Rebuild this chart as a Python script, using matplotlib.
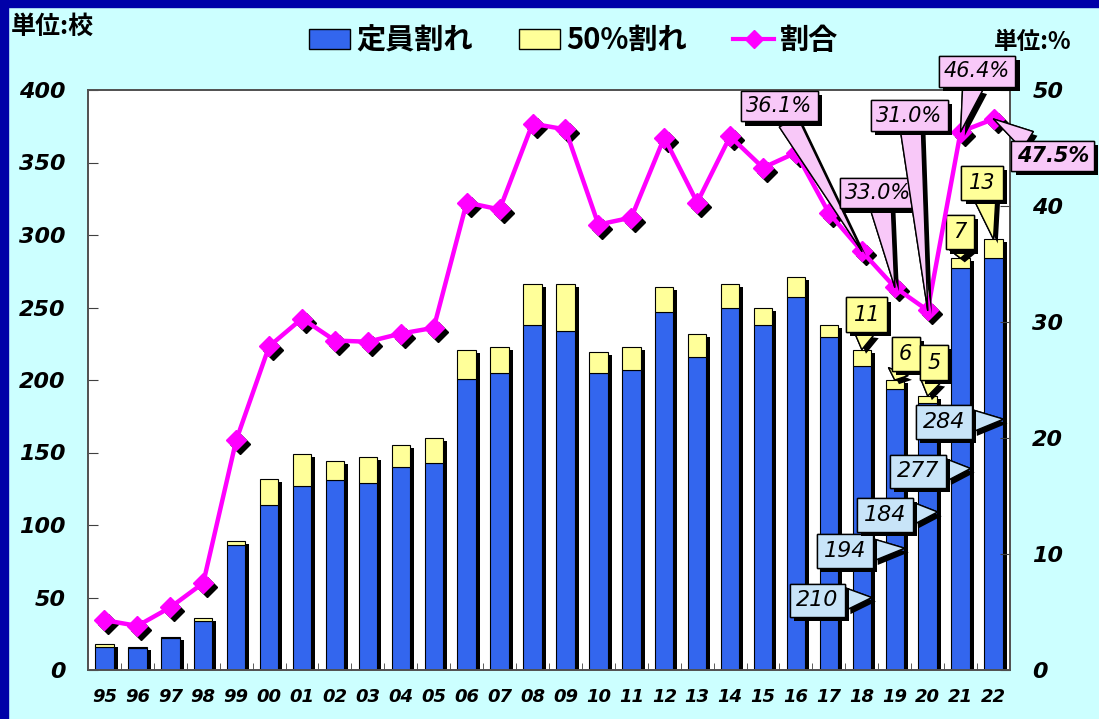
import numpy as np
import matplotlib
matplotlib.use('Agg')
import matplotlib.pyplot as plt
import matplotlib.patheffects as pe
from matplotlib.patches import Patch, Rectangle
from matplotlib.lines import Line2D
from matplotlib.transforms import offset_copy

## data
years  = ['95','96','97','98','99','00','01','02','03','04','05','06','07','08',
          '09','10','11','12','13','14','15','16','17','18','19','20','21','22']
blue   = [16,15,22,34,86,114,127,131,129,140,143,201,205,238,
          234,205,207,247,216,250,238,257,230,210,194,184,277,284]
yellow = [2,1,1,2,3,18,22,13,18,15,17,20,18,28,
          32,14,16,17,16,16,12,14,8,11,6,5,7,13]
ratio  = [4.3,3.8,5.4,7.5,19.8,27.9,30.3,28.4,28.3,29.0,29.5,40.3,39.7,47.1,
          46.6,38.4,39.0,45.9,40.3,46.0,43.3,44.6,39.4,36.1,33.0,31.0,46.4,47.5]

# callouts: (index, text position x, text position y)
pct_notes    = [(23, 20.5, 48.6), (24, 23.5, 41.1), (25, 24.45, 47.8),
                (26, 26.5, 51.6), (27, 28.8, 44.3)]
yellow_notes = [(23, 23.15, 245), (24, 24.33, 218), (25, 25.2, 212),
                (26, 25.98, 302), (27, 26.65, 336)]
blue_notes   = [(23, 21.65, 48), (24, 22.48, 82), (25, 23.7, 107),
                (26, 24.7, 137), (27, 25.49, 171)]

BG     = '#CCFFFF'
BLUE   = '#3366EE'
YELLOW = '#FFFF99'
MAG    = '#FF00FF'
PINK   = '#F8C8F8'
LBLUE  = '#C8E4F8'
JP     = ['Noto Sans CJK JP', 'DejaVu Sans']

fig = plt.figure(figsize=(10.99, 7.19), dpi=100, facecolor=BG)
fig.patches.append(Rectangle((0, 0), 8/1099, 1, transform=fig.transFigure,
                             color='#0000A8', zorder=0))
fig.patches.append(Rectangle((0, 1-7/719), 1, 7/719, transform=fig.transFigure,
                             color='#0000A8', zorder=0))

ax = fig.add_axes([88/1099, 49/719, 922/1099, 580/719])
ax.set_facecolor('white')
x = np.arange(len(years))
total = np.array(blue) + np.array(yellow)
w = 0.56

shadow = offset_copy(ax.transData, fig=fig, x=4, y=-3, units='dots')
ax.bar(x, total, w, color='black', transform=shadow, zorder=1)
ax.bar(x, blue, w, color=BLUE, edgecolor='black', lw=0.8, zorder=2)
ax.bar(x, yellow, w, bottom=blue, color=YELLOW, edgecolor='black', lw=0.8, zorder=2)

ax.set_xlim(-0.5, len(years) - 0.5)
ax.set_ylim(0, 400)
ax.set_yticks(np.arange(0, 401, 50))
ax.set_xticks(x)
ax.set_xticklabels(years)
ax.set_xticks(np.arange(0.5, len(years) - 0.5, 1), minor=True)
ax.tick_params(axis='x', which='major', length=0, pad=13, labelsize=13)
ax.tick_params(axis='x', which='minor', direction='in', length=5, color='#404040')
ax.tick_params(axis='y', direction='in', length=7, pad=16, labelsize=16, color='#404040')
for t in ax.get_xticklabels() + ax.get_yticklabels():
    t.set_fontweight('bold')
    t.set_fontstyle('italic')
for s in ax.spines.values():
    s.set_color('#505050')
    s.set_linewidth(1.2)

ax2 = ax.twinx()
ax2.set_ylim(0, 50)
ax2.set_yticks(np.arange(0, 51, 10))
ax2.tick_params(axis='y', direction='in', length=7, pad=16, labelsize=16, color='#404040')
for t in ax2.get_yticklabels():
    t.set_fontweight('bold')
    t.set_fontstyle('italic')
for s in ax2.spines.values():
    s.set_color('#505050')
    s.set_linewidth(1.2)

mshadow = offset_copy(ax2.transData, fig=fig, x=4, y=-4, units='dots')
ax2.plot(x, ratio, ls='none', marker='D', ms=10, color='black', transform=mshadow, zorder=2)
ax2.plot(x, ratio, color=MAG, lw=3.2, marker='D', ms=10, zorder=3)

shade = [pe.withSimplePatchShadow(offset=(3, -3), shadow_rgbFace='black', alpha=1.0), pe.Normal()]

def callout(axis, txt, xy, xytext, fc, size=15, bold=False, tail=1.0, pad=0.25):
    a = axis.annotate(txt, xy=xy, xytext=xytext, textcoords='data',
                      ha='center', va='center', fontsize=size, style='italic',
                      fontweight='bold' if bold else 'normal',
                      annotation_clip=False, zorder=6,
                      bbox=dict(boxstyle='square,pad=%.2f' % pad, fc=fc, ec='black', lw=1),
                      arrowprops=dict(arrowstyle='wedge,tail_width=%.2f,shrink_factor=0.5' % tail,
                                      fc=fc, ec='black', lw=1, shrinkA=0, shrinkB=0))
    a.get_bbox_patch().set_path_effects(shade)
    a.arrow_patch.set_path_effects(shade)
    return a

for i, tx, ty in pct_notes:
    callout(ax2, '%.1f%%' % ratio[i], (i, ratio[i]), (tx, ty), PINK, bold=(i == 27))
for i, tx, ty in yellow_notes:
    callout(ax, str(yellow[i]), (i, total[i]), (tx, ty), YELLOW, pad=0.35)
for i, tx, ty in blue_notes:
    callout(ax, str(blue[i]), (i + 0.3, ty + 2), (tx, ty), LBLUE, size=16, pad=0.3)

handles = [Patch(fc=BLUE, ec='black'), Patch(fc=YELLOW, ec='black'),
           Line2D([], [], color=MAG, lw=3, marker='D', ms=9)]
fig.legend(handles, ['定員割れ', '50%割れ', '割合'], loc='center',
           bbox_to_anchor=(0.522, 0.944), ncol=3, frameon=False,
           prop=dict(family=JP, weight='bold', size=21),
           handlelength=1.4, handletextpad=0.2, columnspacing=1.6)

fig.text(0.01, 0.962, '単位:校', family=JP, weight='bold', fontsize=18, va='center')
fig.text(0.975, 0.942, '単位:%', family=JP, weight='bold', fontsize=17, va='center', ha='right')

fig.savefig('out.png', dpi=100, facecolor=BG)
